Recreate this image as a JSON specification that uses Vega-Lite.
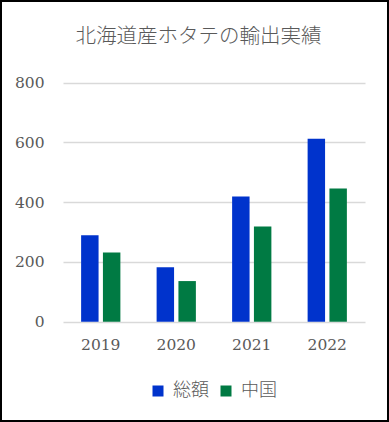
{
  "$schema": "https://vega.github.io/schema/vega-lite/v6.json",
  "width": 387,
  "height": 420,
  "autosize": {"type": "none"},
  "padding": 1,
  "background": "white",
  "config": {
    "view": {"stroke": "black", "strokeWidth": 2, "fill": "white"}
  },
  "title": {
    "text": "北海道産ホタテの輸出実績",
    "font": "Noto Sans CJK JP",
    "fontSize": 20.5,
    "fontWeight": 300,
    "color": "#595959",
    "anchor": "middle",
    "frame": "group",
    "offset": -46,
    "dx": 4
  },
  "data": {
    "values": [
      {"year": "2019", "series": "総額", "value": 289},
      {"year": "2019", "series": "中国", "value": 232},
      {"year": "2020", "series": "総額", "value": 182},
      {"year": "2020", "series": "中国", "value": 136},
      {"year": "2021", "series": "総額", "value": 419},
      {"year": "2021", "series": "中国", "value": 319},
      {"year": "2022", "series": "総額", "value": 612},
      {"year": "2022", "series": "中国", "value": 446}
    ]
  },
  "mark": {"type": "bar"},
  "encoding": {
    "x": {
      "field": "year",
      "type": "nominal",
      "scale": {"range": [62, 364], "paddingInner": 0.48, "paddingOuter": 0.24},
      "axis": {
        "title": null,
        "orient": "bottom",
        "offset": -99.3,
        "domain": false,
        "ticks": false,
        "tickSize": 0,
        "labelPadding": 16,
        "labelAngle": 0,
        "labelFont": "DejaVu Serif",
        "labelFontSize": 15.5,
        "labelColor": "#595959",
        "grid": false
      }
    },
    "xOffset": {
      "field": "series",
      "type": "nominal",
      "sort": ["総額", "中国"],
      "scale": {"paddingInner": 0.2, "paddingOuter": 0}
    },
    "y": {
      "field": "value",
      "type": "quantitative",
      "scale": {"domain": [0, 800], "range": [320.7, 81.7], "nice": false, "zero": true},
      "axis": {
        "title": null,
        "values": [0, 200, 400, 600, 800],
        "offset": -43,
        "domain": false,
        "ticks": false,
        "tickSize": 0,
        "labelPadding": 0,
        "labelFont": "DejaVu Serif",
        "labelFontSize": 15.5,
        "labelColor": "#595959",
        "grid": true,
        "gridColor": "#D9D9D9",
        "gridWidth": 1.3
      }
    },
    "color": {
      "field": "series",
      "type": "nominal",
      "sort": ["総額", "中国"],
      "scale": {"domain": ["総額", "中国"], "range": ["#0033CC", "#007A43"]},
      "legend": {
        "title": null,
        "orient": "none",
        "legendX": 148,
        "legendY": 381,
        "direction": "horizontal",
        "padding": 0,
        "symbolType": "square",
        "symbolSize": 121,
        "symbolStrokeWidth": 0,
        "symbolOpacity": 1,
        "labelFont": "Noto Sans CJK JP",
        "labelFontSize": 18,
        "labelFontWeight": 300,
        "labelColor": "#595959",
        "labelOffset": 6,
        "columnPadding": 8
      }
    }
  }
}
